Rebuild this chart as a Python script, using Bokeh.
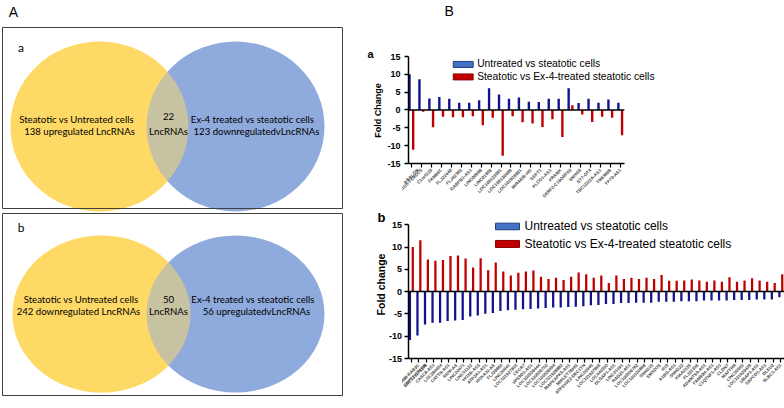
import math
from bokeh.plotting import figure
from bokeh.models import Range1d, FixedTicker, Label, Span, ColumnDataSource
from bokeh.layouts import row, column
from bokeh.transform import dodge
from bokeh.core.properties import value
from bokeh.embed import file_html
from bokeh.resources import INLINE

# ---------------- data ----------------
venn_a_left = ["Steatotic vs Untreated cells", "138 upregulated LncRNAs"]
venn_a_mid = ["22", "LncRNAs"]
venn_a_right = ["Ex-4 treated vs steatotic cells", "123 downregulatedvLncRNAs"]
venn_b_left = ["Steatotic vs Untreated cells", "242 downregulated LncRNAs"]
venn_b_mid = ["50", "LncRNAs"]
venn_b_right = ["Ex-4 treated vs steatotic cells", "56 upregulatedvLncRNAs"]

series_names = ["Untreated vs steatotic cells", "Steatotic vs Ex-4-treated steatotic cells"]
y_ticks = [-15, -10, -5, 0, 5, 10, 15]

genes_a = ["ABALON", "BLOC1S5-TXNDC5", "C1orf220", "FAM66C", "FLJ22440", "FLJ42393",
           "GABPB1-AS1", "LINC00998", "LINC01868", "LOC100133091", "LOC100130488",
           "LOC101928881", "MIR4435-HG", "SEPT1", "PLCG1-AS1", "PRANK",
           "SERF2-C15ORF63", "SNHG5", "ST7-OT4", "TBC1D22A-AS1", "TMEM9B", "TP73-AS1"]
untreated_a = [10.0, 8.6, 3.2, 3.6, 3.1, 2.0, 2.0, 2.7, 6.1, 4.3, 3.1, 3.5, 2.3, 2.2,
               3.1, 3.1, 6.1, 1.9, 3.1, 2.0, 2.9, 2.0]
ex4_a = [-11.2, -0.5, -4.9, -1.9, -2.1, -2.1, -1.8, -4.3, -2.2, -12.9, -1.8, -3.5, -3.8,
         -4.8, -2.6, -7.6, 1.3, -1.3, -3.4, -1.9, -2.2, -7.1]

genes_b = ["SEPT7-CP1BB", "TMEM88-RAB3C", "LOC101175178", "CASC8-AS1", "LOC284454",
           "CATTN-AS1", "RENI-AS", "LINC00471", "LINC01122", "HOXB-AS3", "ATP2A1-AS1",
           "HOXA10-AS", "FLJ39880", "LINC00641", "LOC101927815", "CECR7", "VPS9D1-AS1",
           "LOC100506444", "LOC100505702", "LOC100506994", "LOC101928882", "MAPKAPK5-AS1",
           "MIRLET7BHG", "ATP6V0E2-DEC1TN", "LINC00945", "LOC101927865", "LOC440300",
           "DLGAP1-AS1", "LINC01091", "RAD21-AS1", "LOC100506782", "LOC100130898",
           "SNHG15", "EMX2OS", "H19", "A1BG-AS1", "SNHG22", "KIAA0125", "FLJ31306",
           "ADAMTS9-AS1", "FAM83H-AS1", "C1QTNF1-AS1", "CLDN7", "MAFTRR", "LINC00963",
           "LOC101929439", "UBAP1-AS1", "SAPCD1-AS1", "DLEU2", "SLBC1-AS1"]
untreated_b = [-10.9, -9.9, -7.4, -7.0, -7.0, -6.6, -6.5, -6.4, -5.6, -5.4,
               -5.0, -4.8, -4.4, -4.2, -4.1, -4.0, -3.9, -3.8, -3.7, -3.6,
               -3.6, -3.5, -3.4, -3.3, -3.1, -3.0, -2.8, -2.8, -2.6, -2.6,
               -2.5, -2.5, -2.5, -2.3, -2.3, -2.3, -2.2, -2.2, -2.2, -2.0,
               -2.0, -2.0, -2.0, -1.9, -1.9, -1.9, -1.8, -1.8, -1.8, -1.3]
ex4_b = [10.0, 11.5, 7.2, 6.9, 7.1, 8.0, 8.1, 7.4, 5.4, 7.5,
         4.8, 6.5, 4.5, 3.6, 4.2, 4.5, 4.7, 3.3, 2.8, 3.1,
         2.6, 3.3, 4.3, 3.9, 3.1, 3.6, 1.9, 3.6, 2.8, 3.1,
         2.8, 3.1, 2.8, 3.7, 2.4, 2.4, 2.5, 2.7, 2.5, 2.2,
         2.5, 2.2, 3.2, 2.2, 2.5, 3.0, 2.5, 2.2, 1.9, 3.9]

# ---------------- layout (page px) ----------------
W, H = 784, 408
LEFT_W = 402          # left figure: Venn panel, panel letters, y titles, y tick labels
SPLIT = 208           # page y where chart b starts
FA_L, FA_B, FA_T15 = 406, 163, 56      # chart a: y-axis x, -15 level, +15 level
FB_L, FB_B, FB_T15 = 408, 358, 224.3   # chart b

YEL = "#FFD966"
VBLUE = "#8FAADC"
NAVY = "#12128C"
RED = "#C00000"
LBLUE = "#4472C4"
ARIAL = "Liberation Sans"
CAL = "Lato"
EPS = 0.05
A_PPU = (FA_B - FA_T15) / 30.0
B_PPU = (FB_B - FB_T15) / 30.0


def ptext(p, xs, ys, texts, size, font, style="normal", align="center", angle=0.0):
    p.text(x=xs, y=ys, text=texts, text_font=value(font), text_font_size=size,
           text_font_style=style, text_align=align, text_baseline="middle",
           text_color="black", angle=angle)

# ---------------- left figure ----------------
pv = figure(width=LEFT_W, height=H, x_range=Range1d(0, LEFT_W), y_range=Range1d(H, 0),
            x_axis_type=None, y_axis_type=None, toolbar_location=None,
            output_backend="svg", min_border=0)
pv.outline_line_color = None

venn_cy = [126, 313.5]
venn_h = [170, 157]
pv.ellipse(x=[99, 101], y=venn_cy, width=178, height=venn_h, fill_color=YEL, line_color=None)
pv.ellipse(x=[235, 235], y=venn_cy, width=178, height=venn_h, fill_color=VBLUE, line_color=None)
pv.ellipse(x=[99, 101], y=venn_cy, width=178, height=venn_h, fill_color=YEL,
           fill_alpha=0.5, line_color=None)
pv.quad(left=[2, 2], right=[342, 342], top=[27, 213], bottom=[208, 395],
        fill_color=None, line_color="#404040", line_width=1)

ptext(pv, [76, 79], [119, 131], venn_a_left, "9.6px", CAL)
ptext(pv, [168, 168], [116, 131], venn_a_mid, "9.6px", CAL)
ptext(pv, [252, 256], [119, 131], venn_a_right, "9.6px", CAL)
ptext(pv, [80.5, 78], [299, 311], venn_b_left, "9.6px", CAL)
ptext(pv, [168, 168], [299, 311], venn_b_mid, "9.6px", CAL)
ptext(pv, [252.5, 256], [299, 311], venn_b_right, "9.6px", CAL)
ptext(pv, [13], [11], ["A"], "14px", ARIAL)
ptext(pv, [20.5], [47], ["a"], "12px", CAL)
ptext(pv, [20.5], [226.5], ["b"], "12px", CAL)
# bar-chart panel letters, y-axis titles and y tick labels
ptext(pv, [370], [53], ["a"], "11px", ARIAL, style="bold")
ptext(pv, [381], [217], ["b"], "13px", ARIAL, style="bold")
ptext(pv, [377], [110], ["Fold Change"], "9px", ARIAL, style="bold", angle=math.pi / 2)
ptext(pv, [380], [284], ["Fold change"], "10.5px", ARIAL, style="bold", angle=math.pi / 2)
ptext(pv, [FA_L - 6] * len(y_ticks), [FA_B - (t + 15) * A_PPU for t in y_ticks],
      [str(t) for t in y_ticks], "9px", ARIAL, style="bold", align="right")
ptext(pv, [FB_L - 6.5] * len(y_ticks), [FB_B - (t + 15) * B_PPU for t in y_ticks],
      [str(t) for t in y_ticks], "9px", ARIAL, style="bold", align="right")


def style_axes(p, labels, xbounds, xlab_fs):
    ya = p.yaxis[0]
    ya.ticker = FixedTicker(ticks=y_ticks, minor_ticks=[])
    ya.bounds = (-15 - EPS, 15 + EPS)
    ya.axis_line_width = 1.5
    ya.major_tick_line_width = 1.5
    ya.major_tick_out = 4
    ya.major_tick_in = 0
    ya.minor_tick_line_color = None
    ya.major_label_text_font_size = "0px"
    ya.major_label_standoff = 0

    xa = p.xaxis[0]
    xa.ticker = FixedTicker(ticks=list(range(len(labels))), minor_ticks=[])
    xa.major_label_overrides = {i: g for i, g in enumerate(labels)}
    xa.bounds = xbounds
    xa.axis_line_width = 1.5
    xa.major_tick_line_width = 1.2
    xa.major_tick_out = 4
    xa.major_tick_in = 0
    xa.minor_tick_line_color = None
    xa.major_label_orientation = math.pi / 4
    xa.major_label_text_font = ARIAL
    xa.major_label_text_font_style = "bold"
    xa.major_label_text_font_size = xlab_fs
    xa.major_label_standoff = 2
    p.xgrid.visible = False
    p.ygrid.visible = False
    p.outline_line_color = None


def add_label(p, x, y, text, size, style="normal", align="left"):
    p.add_layout(Label(x=x, y=y, text=text, text_font=ARIAL, text_font_size=size,
                       text_font_style=style, text_align=align, text_baseline="middle",
                       text_color="black"))

# ---------------- bar chart a ----------------
def a_x(ix):
    return (ix - 409.0) / 10.0

def a_y(iy):
    return -15 + (FA_B - iy) / A_PPU

pa = figure(width=W - LEFT_W, height=SPLIT,
            x_range=Range1d(a_x(FA_L), a_x(W)), y_range=Range1d(-15 - EPS, a_y(0)),
            min_border_left=FA_L - LEFT_W, min_border_right=0, min_border_top=0,
            min_border_bottom=SPLIT - FA_B, toolbar_location=None, output_backend="svg")
src_a = ColumnDataSource(dict(idx=list(range(len(genes_a))), up=untreated_a, ex=ex4_a))
pa.vbar(x=dodge("idx", -0.2), top="up", width=0.24, source=src_a,
        fill_color=NAVY, line_color=None)
pa.vbar(x=dodge("idx", 0.17), top="ex", width=0.24, source=src_a,
        fill_color=RED, line_color=None)
xb_a = (a_x(FA_L), len(genes_a) - 1 + 0.4)
pa.segment(x0=[xb_a[0]], x1=[xb_a[1]], y0=[0], y1=[0], line_color="black", line_width=1.5)
style_axes(pa, genes_a, xb_a, "4.5px")
pa.quad(left=[a_x(451)] * 2, right=[a_x(471)] * 2, top=[a_y(61), a_y(73.5)],
        bottom=[a_y(67), a_y(79.5)], fill_color=[LBLUE, RED],
        line_color=["#1F3F7F", "#8B0000"], line_width=1)
add_label(pa, a_x(475), a_y(63.5), series_names[0], "10.3px")
add_label(pa, a_x(475), a_y(76.5), series_names[1], "10.3px")
add_label(pa, a_x(447), a_y(11), "B", "14px", align="center")

# ---------------- bar chart b ----------------
def b_x(ix):
    return (ix - 410.7) / 7.54

def b_y(iy):
    return -15 + (FB_B - iy) / B_PPU

pb = figure(width=W - LEFT_W, height=H - SPLIT,
            x_range=Range1d(b_x(FB_L), b_x(W)), y_range=Range1d(-15 - EPS, b_y(SPLIT)),
            min_border_left=FB_L - LEFT_W, min_border_right=0, min_border_top=0,
            min_border_bottom=H - FB_B, toolbar_location=None, output_backend="svg")
src_b = ColumnDataSource(dict(idx=list(range(len(genes_b))), up=untreated_b, ex=ex4_b))
pb.vbar(x=dodge("idx", -0.17), top="up", width=0.3, source=src_b,
        fill_color=NAVY, line_color=None)
pb.vbar(x=dodge("idx", 0.21), top="ex", width=0.3, source=src_b,
        fill_color=RED, line_color=None)
pb.add_layout(Span(location=0, dimension="width", line_color="black", line_width=1.5))
style_axes(pb, genes_b, (b_x(FB_L), b_x(W)), "4.4px")
pb.quad(left=[b_x(495)] * 2, right=[b_x(519)] * 2, top=[b_y(222.7), b_y(240)],
        bottom=[b_y(229.3), b_y(247)], fill_color=[LBLUE, RED],
        line_color=["#1F3F7F", "#8B0000"], line_width=1)
add_label(pb, b_x(524), b_y(226), series_names[0], "12px")
add_label(pb, b_x(524), b_y(243.5), series_names[1], "12px")

layout = row(pv, column(pa, pb, spacing=0), spacing=0)
open("out.html", "w").write(file_html(layout, INLINE))
